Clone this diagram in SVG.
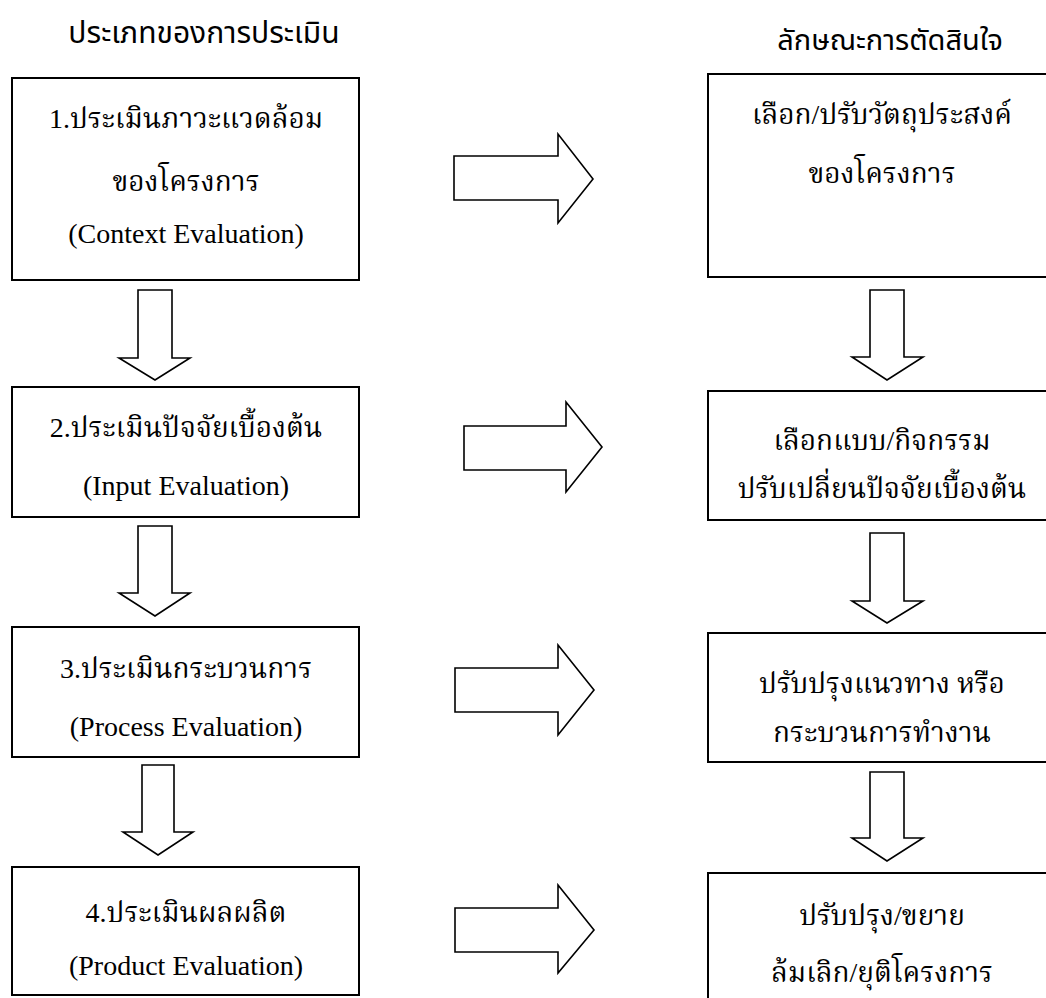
<svg xmlns="http://www.w3.org/2000/svg" width="1046" height="998" viewBox="0 0 1046 998">
<style>
.box{fill:#fff;stroke:#000;stroke-width:2}
.arr{fill:#fff;stroke:#000;stroke-width:1.6;stroke-linejoin:miter}
.t{font-family:"Liberation Serif","Noto Serif Thai","Noto Sans Thai","Noto Sans",serif;font-size:28px;fill:#000;text-anchor:middle}
.h{font-family:"Noto Sans Thai","Noto Sans","DejaVu Sans",sans-serif;font-size:29px;fill:#000;text-anchor:middle}
</style>
<rect width="1046" height="998" fill="#fff"/>
<g id="headers">
<text class="h" x="204" y="43" style="font-size:30px">ประเภทของการประเมิน</text>
<text class="h" x="890" y="50">ลักษณะการตัดสินใจ</text>
</g>
<g id="n1"><rect class="box" x="12" y="78" width="347" height="202"/>
<text class="t" x="186" y="128">1.ประเมินภาวะแวดล้อม</text>
<text class="t" x="186" y="191">ของโครงการ</text>
<text class="t" x="186" y="243">(Context Evaluation)</text></g>
<g id="n2"><rect class="box" x="12" y="387" width="347" height="130"/>
<text class="t" x="186" y="437">2.ประเมินปัจจัยเบื้องต้น</text>
<text class="t" x="186" y="495">(Input Evaluation)</text></g>
<g id="n3"><rect class="box" x="12" y="627" width="347" height="130"/>
<text class="t" x="186" y="678">3.ประเมินกระบวนการ</text>
<text class="t" x="186" y="736">(Process Evaluation)</text></g>
<g id="n4"><rect class="box" x="12" y="867" width="347" height="128"/>
<text class="t" x="186" y="922">4.ประเมินผลผลิต</text>
<text class="t" x="186" y="975">(Product Evaluation)</text></g>
<g id="r1"><rect class="box" x="708" y="74" width="360" height="203"/>
<text class="t" x="882" y="124">เลือก/ปรับวัตถุประสงค์</text>
<text class="t" x="882" y="183">ของโครงการ</text></g>
<g id="r2"><rect class="box" x="708" y="391" width="360" height="129"/>
<text class="t" x="882" y="450">เลือกแบบ/กิจกรรม</text>
<text class="t" x="882" y="498">ปรับเปลี่ยนปัจจัยเบื้องต้น</text></g>
<g id="r3"><rect class="box" x="708" y="633" width="360" height="129"/>
<text class="t" x="882" y="693">ปรับปรุงแนวทาง หรือ</text>
<text class="t" x="882" y="742">กระบวนการทำงาน</text></g>
<g id="r4"><rect class="box" x="708" y="873" width="360" height="140"/>
<text class="t" x="882" y="925">ปรับปรุง/ขยาย</text>
<text class="t" x="882" y="982">ล้มเลิก/ยุติโครงการ</text></g>
<g id="connectors">
<path class="arr" d="M454,156H558V134L593,179L558,223V200H454Z"/>
<path class="arr" d="M464,426H566V402L602,447L566,492V470H464Z"/>
<path class="arr" d="M455,668H558V645L594,690L558,735V712H455Z"/>
<path class="arr" d="M455,908H558V885L594,930L558,973V952H455Z"/>
<path class="arr" d="M138,290H172V358H190L155,380L119,358H138Z"/>
<path class="arr" d="M138,526H172V593H190L155,616L119,593H138Z"/>
<path class="arr" d="M142,765H174V832H193L158,855L123,832H142Z"/>
<path class="arr" d="M870,290H904V357H923L887,380L852,357H870Z"/>
<path class="arr" d="M870,533H904V601H923L887,623L852,601H870Z"/>
<path class="arr" d="M870,772H904V838H923L887,861L852,838H870Z"/>
</g>
</svg>
